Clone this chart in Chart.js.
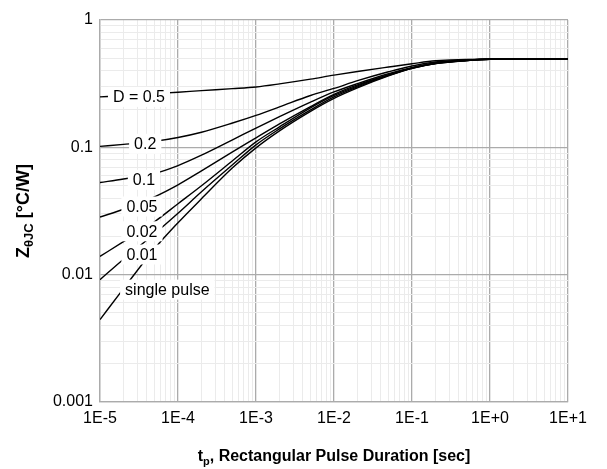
<!DOCTYPE html>
<html><head><meta charset="utf-8">
<script src="https://cdn.jsdelivr.net/npm/chart.js@4.4.1/dist/chart.umd.min.js"></script>
<style>html,body{margin:0;padding:0;background:#fff;} #wrap{width:607px;height:469px;position:relative;}</style>
</head><body><div id="wrap"><canvas id="c" width="607" height="469"></canvas></div>
<script>
// ---- data ----
const pulseDurations = [1e-5, 2e-5, 5e-5, 1e-4, 2e-4, 5e-4, 1e-3, 2e-3, 5e-3, 1e-2, 2e-2, 5e-2, 1e-1, 2e-1, 5e-1, 1, 10];
const zD05    = [0.249, 0.255, 0.264, 0.271, 0.279, 0.289, 0.298, 0.315, 0.343, 0.369, 0.394, 0.427, 0.453, 0.478, 0.491, 0.492, 0.492];
const zD02    = [0.1018, 0.1054, 0.1115, 0.1195, 0.1314, 0.1552, 0.1782, 0.2077, 0.2553, 0.2902, 0.3338, 0.3920, 0.4357, 0.4683, 0.4856, 0.492, 0.492];
const zD01    = [0.05295, 0.0564, 0.0623, 0.0719, 0.0867, 0.1145, 0.1418, 0.1742, 0.2266, 0.2725, 0.3164, 0.3783, 0.4224, 0.4557, 0.4803, 0.492, 0.492];
const zD005   = [0.02835, 0.03264, 0.0409, 0.0508, 0.0654, 0.0922, 0.1187, 0.1528, 0.2090, 0.2605, 0.3092, 0.3704, 0.4202, 0.4600, 0.4830, 0.492, 0.492];
const zD002   = [0.01391, 0.01815, 0.02604, 0.03605, 0.04989, 0.07838, 0.1104, 0.1448, 0.2041, 0.2557, 0.3037, 0.3704, 0.4202, 0.4575, 0.4814, 0.492, 0.492];
const zD001   = [0.00914, 0.01323, 0.02097, 0.03037, 0.04477, 0.07291, 0.1046, 0.1397, 0.1968, 0.2489, 0.2982, 0.3671, 0.4180, 0.4558, 0.4814, 0.492, 0.492];
const zSingle = [0.00444, 0.00777, 0.01599, 0.02557, 0.03946, 0.06907, 0.0991, 0.1347, 0.1916, 0.2423, 0.2929, 0.3638, 0.4165, 0.4542, 0.4805, 0.492, 0.492];

const seriesLabels = ['D = 0.5', '0.2', '0.1', '0.05', '0.02', '0.01', 'single pulse'];
const seriesValues = [zD05, zD02, zD01, zD005, zD002, zD001, zSingle];

// where each curve's label sits (data coordinates)
const labelT = [3.16e-5, 3.8e-5, 3.66e-5, 3.45e-5, 3.45e-5, 3.45e-5, 7.3e-5];
const labelZ = [0.249, 0.1066, 0.0556, 0.0343, 0.0219, 0.0144, 0.00763];

const xTickValues = [1e-5, 1e-4, 1e-3, 1e-2, 1e-1, 1, 10];
const xTickLabels = ['1E-5', '1E-4', '1E-3', '1E-2', '1E-1', '1E+0', '1E+1'];
const yTickValues = [0.001, 0.01, 0.1, 1];
const yTickLabels = ['0.001', '0.01', '0.1', '1'];

// ---- chart ----
const FONT = '"Liberation Sans", Arial, sans-serif';
const MAJOR = '#ababab', MINOR = '#ebebeb';

function isDecade(v) { const l = Math.log10(v); return Math.abs(l - Math.round(l)) < 1e-6; }
function fullTicks(decades) {
  const out = [];
  for (let i = 0; i < decades.length - 1; i++) for (let k = 1; k <= 9; k++) out.push({ value: k * decades[i] });
  out.push({ value: decades[decades.length - 1] });
  return out;
}
function labelFor(values, labels, v) {
  for (let i = 0; i < values.length; i++) if (Math.abs(values[i] - v) / values[i] < 1e-6) return labels[i];
  return '';
}

const datasets = seriesValues.map((vals, i) => ({
  label: seriesLabels[i],
  data: pulseDurations.map((t, j) => ({ x: t, y: vals[j] })),
  borderColor: '#000', borderWidth: 1.4, pointRadius: 0, fill: false,
  cubicInterpolationMode: 'monotone'
}));

const curveLabels = {
  id: 'curveLabels',
  afterDatasetsDraw(chart) {
    const { ctx, scales: { x, y } } = chart;
    ctx.save();
    ctx.font = '16px ' + FONT;
    ctx.textAlign = 'center'; ctx.textBaseline = 'middle';
    seriesLabels.forEach((txt, i) => {
      const px = x.getPixelForValue(labelT[i]);
      const py = y.getPixelForValue(labelZ[i]);
      const w = ctx.measureText(txt).width;
      ctx.fillStyle = '#fff';
      ctx.fillRect(px - w / 2 - 5, py - 10, w + 10, 20);
      ctx.fillStyle = '#000';
      ctx.fillText(txt, px, py + 1);
    });
    ctx.restore();
  }
};

const axisTitles = {
  id: 'axisTitles',
  afterDraw(chart) {
    const { ctx, chartArea } = chart;
    ctx.save();
    ctx.fillStyle = '#000'; ctx.textBaseline = 'alphabetic'; ctx.textAlign = 'left';
    let big = 'bold 16px ' + FONT, small = 'bold 11px ' + FONT;
    const parts = [['t', big, 0], ['p', small, 4], [', Rectangular Pulse Duration [sec]', big, 0]];
    let tot = 0;
    parts.forEach(p => { ctx.font = p[1]; tot += ctx.measureText(p[0]).width; });
    let sx = (chartArea.left + chartArea.right) / 2 - tot / 2;
    parts.forEach(p => { ctx.font = p[1]; ctx.fillText(p[0], sx, 461 + p[2]); sx += ctx.measureText(p[0]).width; });
    // y title
    big = 'bold 18px ' + FONT; small = 'bold 13px ' + FONT;
    ctx.translate(29, (chartArea.top + chartArea.bottom) / 2);
    ctx.rotate(-Math.PI / 2);
    const yparts = [['Z', big, 0], ['\u03B8JC', small, 4], [' [\u00B0C/W]', big, 0]];
    tot = 0;
    yparts.forEach(p => { ctx.font = p[1]; tot += ctx.measureText(p[0]).width; });
    sx = -tot / 2;
    yparts.forEach(p => { ctx.font = p[1]; ctx.fillText(p[0], sx, p[2]); sx += ctx.measureText(p[0]).width; });
    ctx.restore();
  }
};

new Chart(document.getElementById('c'), {
  type: 'line',
  data: { datasets },
  options: {
    responsive: false, animation: false, devicePixelRatio: 1,
    layout: { padding: { left: 0, right: 39, top: 20, bottom: 0 } },
    plugins: { legend: { display: false }, tooltip: { enabled: false } },
    scales: {
      x: {
        type: 'logarithmic', min: 1e-5, max: 10,
        afterBuildTicks: s => { s.ticks = fullTicks(xTickValues); },
        afterFit: s => { s.height = 67; },
        ticks: {
          autoSkip: false, maxRotation: 0, padding: 7, color: '#000',
          font: { family: FONT, size: 16 },
          callback: v => labelFor(xTickValues, xTickLabels, v)
        },
        grid: { drawTicks: false, color: c => isDecade(c.tick.value) ? MAJOR : MINOR, lineWidth: c => isDecade(c.tick.value) ? 1.3 : 1 },
        border: { color: MAJOR, width: 1.3 }
      },
      y: {
        type: 'logarithmic', min: 0.001, max: 1,
        afterBuildTicks: s => { s.ticks = fullTicks(yTickValues); },
        afterFit: s => { s.width = 100; },
        ticks: {
          autoSkip: false, padding: 7, color: '#000',
          font: { family: FONT, size: 16 },
          callback: v => labelFor(yTickValues, yTickLabels, v)
        },
        grid: { drawTicks: false, color: c => isDecade(c.tick.value) ? MAJOR : MINOR, lineWidth: c => isDecade(c.tick.value) ? 1.3 : 1 },
        border: { color: MAJOR, width: 1.3 }
      }
    }
  },
  plugins: [curveLabels, axisTitles]
});
</script>
</body></html>
